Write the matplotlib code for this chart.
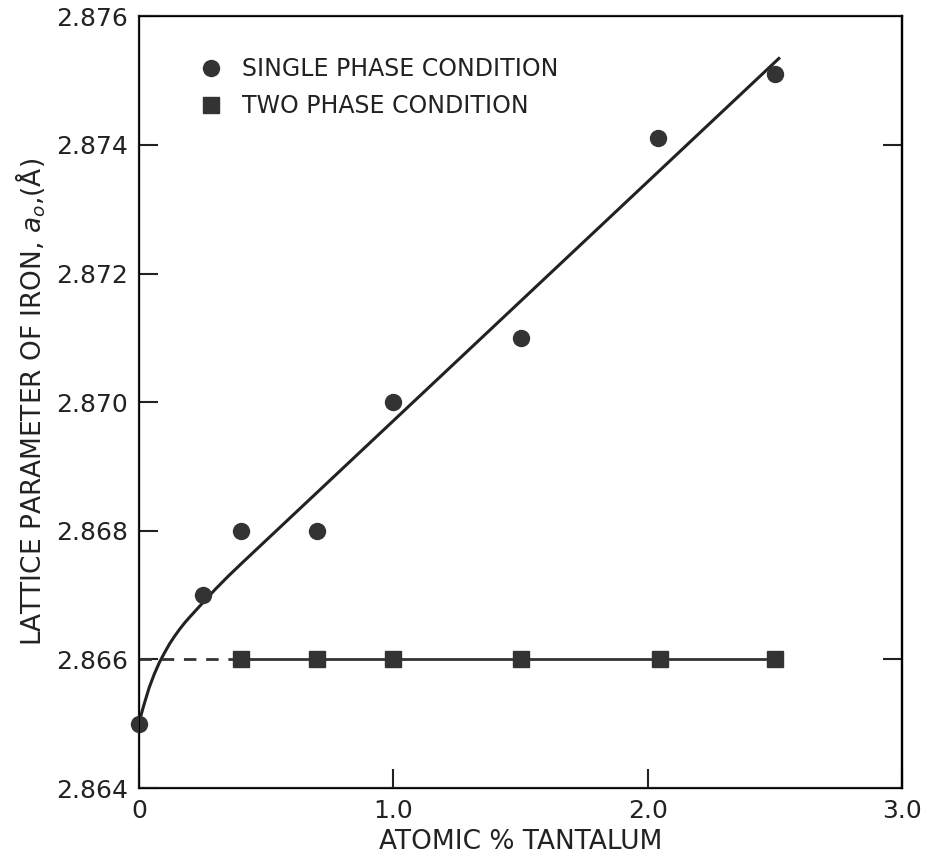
import matplotlib.pyplot as plt
from matplotlib.lines import Line2D

# lattice parameter of iron vs tantalum content
single_x = [0, 0.25, 0.4, 0.7, 1.0, 1.5, 2.04, 2.5]
single_y = [2.865, 2.867, 2.868, 2.868, 2.870, 2.871, 2.8741, 2.8751]

two_x = [0.4, 0.7, 1.0, 1.5, 2.05, 2.5]
two_y = [2.866, 2.866, 2.866, 2.866, 2.866, 2.866]

# hand-drawn trend curve through the single phase points
curve_x = [0, 0.01, 0.02, 0.04, 0.06, 0.08, 0.10, 0.12, 0.14, 0.16, 0.18, 0.20,
           0.23, 0.26, 0.30, 0.35, 0.40, 2.52]
curve_y = [2.86500, 2.86516, 2.86530, 2.86556, 2.86577, 2.86595, 2.86610, 2.86624,
           2.86636, 2.86647, 2.86657, 2.86666, 2.86679, 2.86692, 2.86709, 2.86729,
           2.86748, 2.87536]

xticks = [0, 1.0, 2.0, 3.0]
xtick_labels = ["0", "1.0", "2.0", "3.0"]
yticks = [2.864, 2.866, 2.868, 2.870, 2.872, 2.874, 2.876]
ytick_labels = ["2.864", "2.866", "2.868", "2.870", "2.872", "2.874", "2.876"]
right_ticks = [2.866, 2.874]

ink = "#222222"
mark = "#333333"
plt.rcParams["font.family"] = "DejaVu Sans"

fig = plt.figure(figsize=(9.29, 8.57), dpi=100)
ax = fig.add_axes([0.1496, 0.0805, 0.8214, 0.9005])

ax.plot(curve_x, curve_y, color=ink, lw=2.2, solid_capstyle="butt", solid_joinstyle="round")
ax.plot(two_x, two_y, color=mark, lw=2.0, marker="s", ms=11, mfc=mark, mec=mark)
ax.plot([0, two_x[0]], [two_y[0], two_y[0]], color=mark, lw=2.0, dashes=(4.5, 3.5))
ax.plot(single_x, single_y, ls="none", marker="o", ms=11.5, mfc=mark, mec=mark,
        clip_on=False, zorder=5)

ax.set_xlim(0, 3.0)
ax.set_ylim(2.864, 2.876)
ax.set_xticks(xticks)
ax.set_xticklabels(xtick_labels)
ax.set_yticks(yticks)
ax.set_yticklabels(ytick_labels)
ax.tick_params(direction="in", length=14, width=1.5, labelsize=18, colors=ink, pad=8)
ax.tick_params(axis="x", pad=8)
for s in ax.spines.values():
    s.set_linewidth(1.6)
    s.set_color(ink)

rax = ax.twinx()
rax.set_ylim(ax.get_ylim())
rax.set_yticks(right_ticks)
rax.tick_params(direction="in", length=14, width=1.5, labelright=False, colors=ink)
rax.spines["right"].set_linewidth(1.6)

ax.set_xlabel("ATOMIC % TANTALUM", fontsize=19, color=ink, labelpad=4)
ax.set_ylabel("LATTICE PARAMETER OF IRON, $a_o$,(Å)", fontsize=19, color=ink, labelpad=6)

handles = [
    Line2D([], [], ls="none", marker="o", ms=11.5, mfc=mark, mec=mark),
    Line2D([], [], ls="none", marker="s", ms=11, mfc=mark, mec=mark),
]
ax.legend(handles, ["SINGLE PHASE CONDITION", "TWO PHASE CONDITION"], loc="upper left",
          bbox_to_anchor=(0.051, 0.975), frameon=False, fontsize=17, handletextpad=0.8,
          labelspacing=0.55, handlelength=1.0, labelcolor=ink)

fig.savefig("out.png", dpi=100, facecolor="white")
